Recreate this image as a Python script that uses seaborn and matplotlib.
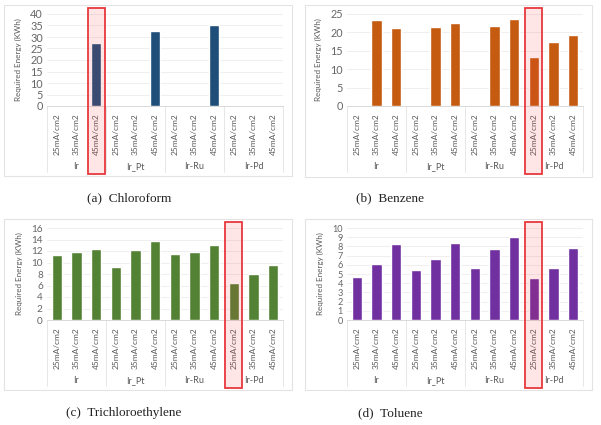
import numpy as np
import pandas as pd
import seaborn as sns
import matplotlib.pyplot as plt
from matplotlib.patches import Rectangle
import matplotlib.transforms as mtransforms

nan = np.nan

# categories on the two-level x axis
groups = ["Ir", "Ir_Pt", "Ir-Ru", "Ir-Pd"]
currents = ["25mA/cm2", "35mA/cm2", "45mA/cm2"]

# required energy (KWh), 12 values per panel in group/current order
chloroform = [nan, nan, 27.4, nan, nan, 32.4, nan, nan, 35.1, nan, nan, nan]
benzene = [nan, 23.4, 21.2, nan, 21.6, 22.5, nan, 21.7, 23.6, 13.4, 17.5, 19.3]
trichloroethylene = [11.3, 11.9, 12.4, 9.25, 12.1, 13.7, 11.4, 11.75, 13.1, 6.4, 8.0, 9.65]
toluene = [4.7, 6.07, 8.3, 5.4, 6.6, 8.4, 5.6, 7.7, 9.0, 4.55, 5.6, 7.8]

captions = ["(a)  Chloroform", "(b)  Benzene", "(c)  Trichloroethylene", "(d)  Toluene"]
highlight = [2, 9, 9, 9]
ymax = [40, 25, 16, 10]
ystep = [5, 5, 2, 1]
tick_size = [7.8, 7.8, 7.2, 6.6]
colors = ["#1F4E79", "#C55A11", "#548235", "#7030A0"]

sns.set_theme(style="white")
plt.rcParams['font.family'] = ['Lato', 'DejaVu Sans']

W, H = 601, 425
fig = plt.figure(figsize=(W / 100, H / 100), dpi=100)

# pixel layout: (frame box, plot area) for each panel
panels = [
    ((4, 5, 292, 176), (47, 14, 283, 106)),
    ((305, 5, 592, 177), (347, 14, 583, 106)),
    ((4, 219, 292, 390), (47, 228, 283, 320)),
    ((305, 219, 592, 390), (347, 228, 583, 320)),
]
caption_pos = [(129, 198), (390, 198), (124, 413), (390, 413)]

keys = [g + " " + c for g in groups for c in currents]
datasets = [chloroform, benzene, trichloroethylene, toluene]

for i, vals in enumerate(datasets):
    (fx0, fy0, fx1, fy1), (x0, y0, x1, y1) = panels[i]
    # panel frame
    fig.patches.append(Rectangle((fx0 / W, 1 - fy1 / H), (fx1 - fx0) / W, (fy1 - fy0) / H,
                                 transform=fig.transFigure, fill=False,
                                 edgecolor="#e3e3e3", linewidth=0.8))
    ax = fig.add_axes([x0 / W, 1 - y1 / H, (x1 - x0) / W, (y1 - y0) / H])
    df = pd.DataFrame({"key": keys, "energy": vals})
    sns.barplot(data=df, x="key", y="energy", order=keys, color=colors[i],
                width=0.52, saturation=1, ax=ax, zorder=3)
    ax.set_xlim(-0.5, 11.5)
    ax.set_ylim(0, ymax[i])
    ax.set_yticks(np.arange(0, ymax[i] + 0.1, ystep[i]))
    ax.tick_params(axis="y", labelsize=tick_size[i], labelcolor="#666666", length=0, pad=3)
    ax.grid(axis="y", color="#ececec", linewidth=0.6, zorder=0)
    for s in ["top", "right", "left"]:
        ax.spines[s].set_visible(False)
    ax.spines["bottom"].set_color("#d9d9d9")
    ax.spines["bottom"].set_linewidth(0.7)
    ax.set_xticks(range(12))
    ax.set_xticklabels(currents * 4, rotation=90, fontsize=6, color="#595959", va="top")
    ax.tick_params(axis="x", length=0, pad=5)
    ax.set_xlabel("")
    ax.set_ylabel("Required Energy (KWh)", fontsize=5.8, color="#595959", labelpad=6)

    trans = mtransforms.blended_transform_factory(ax.transData, ax.transAxes)
    for g, name in enumerate(groups):
        ax.text(3 * g + 1, -0.69, name, transform=trans, ha="center",
                va="baseline", fontsize=6.5, color="#595959")
    for b in [-0.5, 2.5, 5.5, 8.5, 11.5]:
        ax.plot([b, b], [0, -0.72], transform=trans, color="#e3e3e3",
                linewidth=0.6, clip_on=False)

    # red highlight box
    h = highlight[i]
    ax.add_patch(Rectangle((h - 0.44, -0.74), 0.88, 1.81, transform=trans,
                           facecolor=(1, 0.2, 0.2, 0.12), edgecolor="#e8383d",
                           linewidth=1.3, clip_on=False, zorder=5))

    cx, cy = caption_pos[i]
    fig.text(cx / W, 1 - cy / H, captions[i], ha="center", va="center",
             fontsize=9.5, family="Liberation Serif", color="#222222")

fig.savefig("out.png", dpi=100)
